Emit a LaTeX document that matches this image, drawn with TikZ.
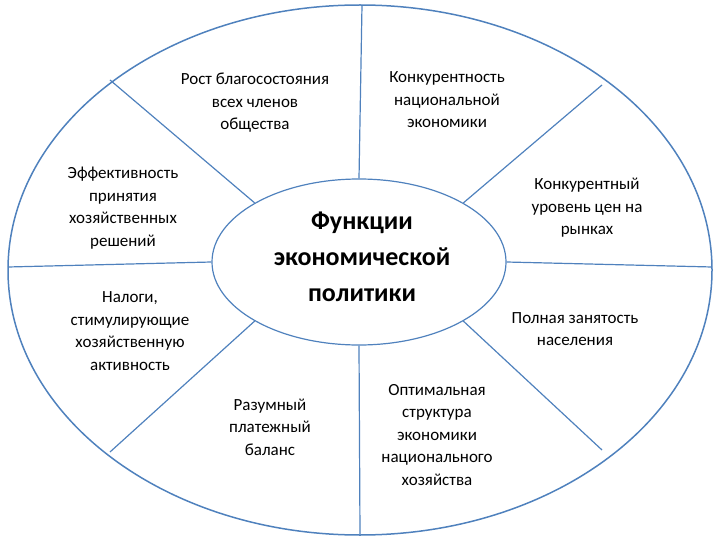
\documentclass[tikz,border=0pt]{standalone}
\usetikzlibrary{shapes.geometric}
\usepackage{fontspec}
\setmainfont{Carlito}
\definecolor{ln}{HTML}{4F81BD}
\begin{document}
\begin{tikzpicture}[x=1pt,y=-1pt,
  lbl/.style={align=center,font=\fontsize{17}{22.5}\selectfont,text=black},
  sp/.style={draw=ln,line width=1.2pt}]
\useasboundingbox (0,0) rectangle (720,540);
\draw[sp,line width=1.5pt] (360,270) ellipse (352 and 265);
\node[sp,ellipse,minimum width=294,minimum height=166,inner sep=0] (c) at (359,262) {};
\node[align=center,font=\fontsize{26}{36}\selectfont\bfseries] (ct) at (362,257) {Функции\\экономической\\политики};
\coordinate (t) at (362,5);
\coordinate (b) at (360,535);
\coordinate (l) at (8,267);
\coordinate (r) at (712,267);
\coordinate (ul) at (110,80);
\coordinate (ur) at (602,85);
\coordinate (dl) at (110,452);
\coordinate (dr) at (602,450);
\draw[sp] (t) -- (c.north);
\draw[sp] (b) -- (c.south);
\draw[sp] (l) -- (c.west);
\draw[sp] (r) -- (c.east);
\draw[sp] (ul) -- (c.north west);
\draw[sp] (ur) -- (c.north east);
\draw[sp] (dl) -- (c.south west);
\draw[sp] (dr) -- (c.south east);
\node[lbl] (n1) at (255,103) {Рост благосостояния\\всех членов\\общества};
\node[lbl] (n2) at (447,100) {Конкурентность\\национальной\\экономики};
\node[lbl] (n3) at (123,208) {Эффективность\\принятия\\хозяйственных\\решений};
\node[lbl] (n4) at (587,208) {Конкурентный\\уровень цен на\\рынках};
\node[lbl] (n5) at (130,331) {Налоги,\\стимулирующие\\хозяйственную\\активность};
\node[lbl] (n6) at (575,329) {Полная занятость\\населения};
\node[lbl] (n7) at (270,427) {Разумный\\платежный\\баланс};
\node[lbl] (n8) at (437,435) {Оптимальная\\структура\\экономики\\национального\\хозяйства};
\end{tikzpicture}
\end{document}
